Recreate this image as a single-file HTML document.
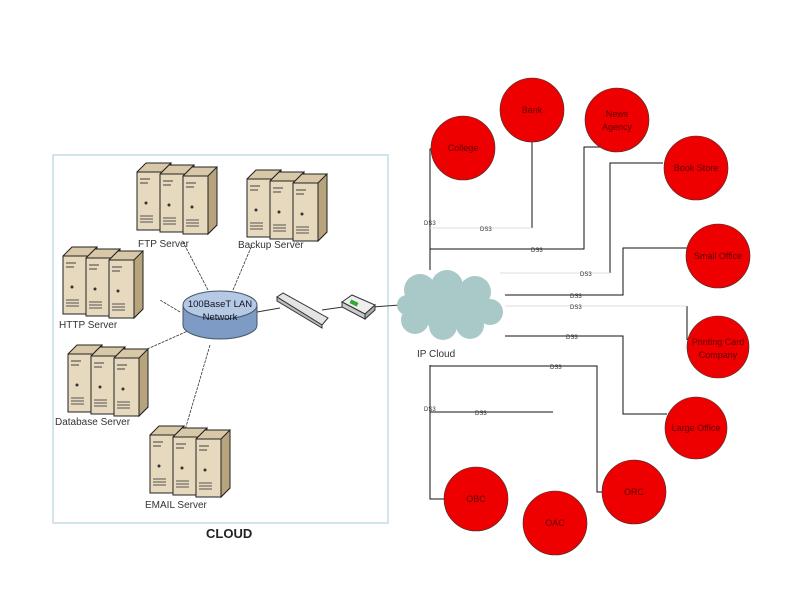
<!DOCTYPE html>
<html><head><meta charset="utf-8"><style>
body{margin:0;background:#fff;}
svg{display:block;font-family:"Liberation Sans",sans-serif;}
</style></head><body>
<svg width="800" height="600" viewBox="0 0 800 600">
<defs>
<g id="srv">
 <polygon points="0,9 9,0 34,0 34,58 25,67 0,67" fill="#d8c8a8" stroke="#222" stroke-width="1"/>
 <polygon points="25,9 34,0 34,58 25,67" fill="#b8a47c" stroke="#222" stroke-width="1"/>
 <rect x="0" y="9" width="25" height="58" fill="#e6d9bd" stroke="#222" stroke-width="1"/>
 <line x1="3" y1="16" x2="13" y2="16" stroke="#444"/><line x1="3" y1="20" x2="11" y2="20" stroke="#444"/>
 <circle cx="9" cy="40" r="1.5" fill="#333"/>
 <line x1="3" y1="53" x2="16" y2="53" stroke="#555"/><line x1="3" y1="56" x2="16" y2="56" stroke="#555"/><line x1="3" y1="59" x2="16" y2="59" stroke="#555"/>
</g>
<g id="trio"><use href="#srv" x="0" y="0"/><use href="#srv" x="23" y="2"/><use href="#srv" x="46" y="4"/></g>
</defs>
<rect x="53" y="155" width="335" height="368" fill="none" stroke="#c4dbe6" stroke-width="1.5"/>
<g stroke="#333" stroke-width="0.8" stroke-dasharray="3,1">
<line x1="208" y1="290" x2="182" y2="240"/>
<line x1="233" y1="290" x2="252" y2="245"/>
<line x1="180" y1="312" x2="160" y2="300"/>
<line x1="190" y1="330" x2="145" y2="350"/>
<line x1="210" y1="345" x2="185" y2="430"/>
</g>
<line x1="257" y1="312" x2="280" y2="308" stroke="#333"/>
<line x1="322" y1="310" x2="350" y2="306" stroke="#333"/>
<line x1="372" y1="307" x2="400" y2="305" stroke="#333"/>
<use href="#trio" x="137" y="163"/>
<use href="#trio" x="247" y="170"/>
<use href="#trio" x="63" y="247"/>
<use href="#trio" x="68" y="345"/>
<use href="#trio" x="150" y="426"/>
<g font-size="10" fill="#333">
<text x="138" y="247">FTP Server</text>
<text x="238" y="248">Backup Server</text>
<text x="59" y="328">HTTP Server</text>
<text x="55" y="425">Database Server</text>
<text x="145" y="508">EMAIL Server</text>
</g>
<text x="206" y="538" font-size="13" font-weight="bold" fill="#222">CLOUD</text>
<ellipse cx="220" cy="325" rx="37" ry="14" fill="#7d9bc4" stroke="#456"/>
<rect x="183" y="305" width="74" height="20" fill="#7d9bc4"/>
<line x1="183" y1="305" x2="183" y2="325" stroke="#456"/><line x1="257" y1="305" x2="257" y2="325" stroke="#456"/>
<ellipse cx="220" cy="305" rx="37" ry="14" fill="#b5c9e4" stroke="#456"/>
<text x="220" y="307" font-size="9.5" text-anchor="middle" fill="#112">100BaseT LAN</text>
<text x="220" y="320" font-size="9.5" text-anchor="middle" fill="#112">Network</text>
<polygon points="277,297 283,293 328,318 322,325" fill="#e4e4e4" stroke="#333"/>
<polygon points="277,297 277,301 322,328 322,325" fill="#bbb" stroke="#333"/>
<polygon points="342,302 352,295 375,305 365,314" fill="#eee" stroke="#333"/>
<polygon points="342,302 342,307 365,319 365,314" fill="#ccc" stroke="#333"/>
<polygon points="365,314 375,305 375,310 365,319" fill="#aaa" stroke="#333"/>
<rect x="350" y="301" width="8" height="4" fill="#3a3" transform="rotate(25 354 303)"/>
<g fill="#a9c8c8">
<circle cx="420" cy="290" r="16"/><circle cx="447" cy="286" r="16"/><circle cx="475" cy="292" r="16"/>
<circle cx="490" cy="312" r="13"/><circle cx="470" cy="325" r="14"/><circle cx="443" cy="326" r="14"/>
<circle cx="415" cy="320" r="14"/><circle cx="407" cy="305" r="10"/><ellipse cx="450" cy="307" rx="40" ry="22"/>
</g>
<text x="417" y="357" font-size="10" fill="#333">IP Cloud</text>
<g stroke="#111" stroke-width="1" fill="none">
<polyline points="441,149 430,149 430,270"/>
<polyline points="430,365 430,499 444,499"/>
<line x1="532" y1="142" x2="532" y2="228"/>
<polyline points="430,249 584,249 584,147 600,147"/>
<polyline points="610,273 610,163 663,163"/>
<polyline points="505,295 623,295 623,248 687,248"/>
<line x1="687" y1="306" x2="687" y2="340"/>
<polyline points="505,336 623,336 623,414 667,414"/>
<polyline points="430,366 597,366 597,492 602,492"/>
<line x1="430" y1="412" x2="553" y2="412"/>
</g>
<g stroke="#ddd" stroke-width="1">
<line x1="430" y1="228" x2="532" y2="228"/>
<line x1="500" y1="273" x2="610" y2="273"/>
<line x1="505" y1="306" x2="687" y2="306"/>
</g>
<g font-size="6" fill="#333">
<text x="424" y="225">DS3</text><text x="480" y="231">DS3</text><text x="531" y="252">DS3</text>
<text x="580" y="276">DS3</text><text x="570" y="298">DS3</text><text x="570" y="309">DS3</text>
<text x="566" y="339">DS3</text><text x="550" y="369">DS3</text><text x="424" y="411">DS3</text><text x="475" y="415">DS3</text>
</g>
<g fill="#ee0000" stroke="#333" stroke-width="0.6">
<circle cx="463" cy="148" r="32"/><circle cx="532" cy="110" r="32"/><circle cx="617" cy="120" r="32"/>
<circle cx="696" cy="168" r="32"/><circle cx="718" cy="256" r="32"/><circle cx="718" cy="347" r="31"/>
<circle cx="696" cy="428" r="31"/><circle cx="634" cy="492" r="32"/><circle cx="555" cy="523" r="32"/><circle cx="476" cy="499" r="32"/>
</g>
<g font-size="9" fill="#600000" text-anchor="middle">
<text x="463" y="151">College</text><text x="532" y="113">Bank</text>
<text x="617" y="117">News</text><text x="617" y="130">Agency</text>
<text x="696" y="171">Book Store</text><text x="718" y="259">Small Office</text>
<text x="718" y="345">Printing Card</text><text x="718" y="358">Company</text>
<text x="696" y="431">Large Office</text><text x="634" y="495">ORC</text>
<text x="555" y="526">OAC</text><text x="476" y="502">OBC</text>
</g>
</svg>
</body></html>
